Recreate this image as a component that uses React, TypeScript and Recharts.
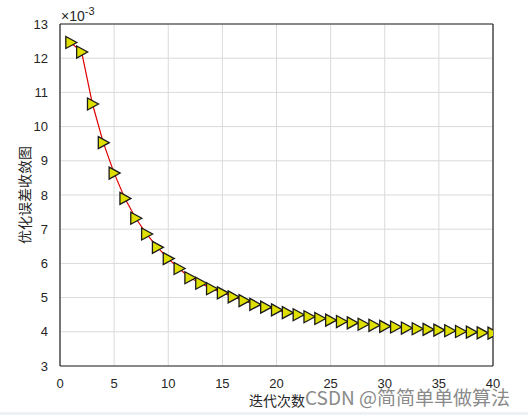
import React from "react";
import { LineChart, Line, XAxis, YAxis, CartesianGrid, ReferenceLine } from "recharts";

const iterations: number[] = Array.from({ length: 40 }, (_, i) => i + 1);
const errorValues: number[] = [
  12.46, 12.18, 10.66, 9.53, 8.64, 7.90, 7.32, 6.86, 6.47, 6.14,
  5.85, 5.58, 5.42, 5.26, 5.14, 5.02, 4.91, 4.80, 4.72, 4.64,
  4.56, 4.50, 4.44, 4.39, 4.34, 4.30, 4.26, 4.22, 4.19, 4.16,
  4.14, 4.11, 4.09, 4.07, 4.05, 4.03, 4.01, 3.99, 3.97, 3.96,
];
const xTicks: number[] = [0, 5, 10, 15, 20, 25, 30, 35, 40];
const yTicks: number[] = [3, 4, 5, 6, 7, 8, 9, 10, 11, 12, 13];

const data = iterations.map((it, i) => ({ it, v: errorValues[i] }));

const TriDot = (props: any) => {
  const { cx, cy, index } = props;
  if (cx == null || cy == null) return null;
  return (
    <polygon
      key={`d${index}`}
      points={`${cx - 5},${cy - 6} ${cx + 6},${cy} ${cx - 5},${cy + 6}`}
      fill="#e0e000"
      stroke="#1a1a1a"
      strokeWidth={1.3}
      strokeLinejoin="miter"
    />
  );
};

const tickStyle = { fontFamily: "Liberation Sans, Arial, sans-serif", fontSize: 13, fill: "#262626" };

export default function App() {
  return (
    <div style={{ position: "absolute", left: 0, top: 0, width: 528, height: 415, background: "#fff", overflow: "hidden" }}>
      <LineChart
        width={528}
        height={415}
        data={data}
        margin={{ top: 24, right: 35, bottom: 19, left: 0 }}
      >
        <CartesianGrid stroke="#dadada" strokeWidth={1} vertical horizontal />
        <XAxis
          dataKey="it"
          type="number"
          domain={[0, 40]}
          ticks={xTicks}
          tickLine={false}
          axisLine={{ stroke: "#262626", strokeWidth: 1.2 }}
          tick={tickStyle}
          tickMargin={7}
          height={30}
          allowDataOverflow
        />
        <YAxis
          type="number"
          domain={[3, 13]}
          ticks={yTicks}
          tickLine={false}
          axisLine={{ stroke: "#262626", strokeWidth: 1.2 }}
          tick={tickStyle}
          tickMargin={6}
          width={60}
          allowDataOverflow
        />
        <ReferenceLine y={13} stroke="#262626" strokeWidth={1.2} />
        <ReferenceLine x={40} stroke="#262626" strokeWidth={1.2} />
        <Line
          type="linear"
          dataKey="v"
          stroke="#e00000"
          strokeWidth={1.2}
          dot={<TriDot />}
          activeDot={false}
          isAnimationActive={false}
        />
      </LineChart>
      <div style={{ position: "absolute", left: 61, top: 5, fontFamily: "Liberation Sans, Arial, sans-serif", fontSize: 14, color: "#262626", whiteSpace: "nowrap" }}>
        ×10<sup style={{ fontSize: 11, verticalAlign: "6px" }}>-3</sup>
      </div>
      <div style={{ position: "absolute", left: 24, top: 195, transform: "translate(-50%, -50%) rotate(-90deg)", fontFamily: "Noto Sans CJK SC, sans-serif", fontSize: 14, color: "#262626", whiteSpace: "nowrap" }}>
        优化误差收敛图
      </div>
      <div style={{ position: "absolute", left: 277, top: 400, transform: "translate(-50%, -50%)", fontFamily: "Noto Sans CJK SC, sans-serif", fontSize: 14, color: "#262626", whiteSpace: "nowrap" }}>
        迭代次数
      </div>
      <div style={{ position: "absolute", left: 305, top: 396, transform: "translateY(-50%)", fontFamily: "Noto Sans CJK SC, sans-serif", fontSize: 19, color: "#8a8a8a", whiteSpace: "nowrap", textShadow: "1px 1px 1px #fff" }}>
        CSDN @简简单单做算法
      </div>
      <div style={{ position: "absolute", left: 0, top: 412, width: 528, height: 3, background: "#eef2f7" }} />
    </div>
  );
}
